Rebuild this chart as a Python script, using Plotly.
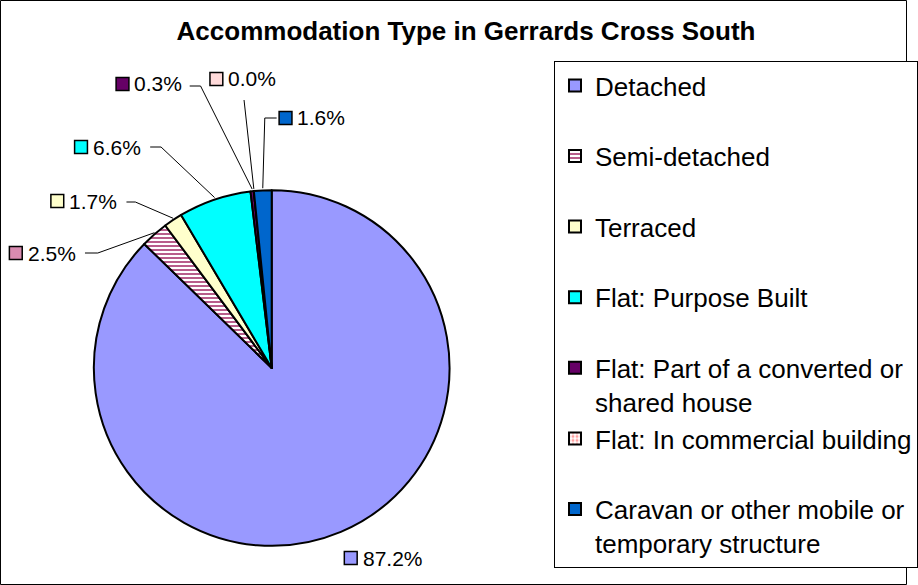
import math
import textwrap
import plotly.graph_objects as go

# ---------------- data ----------------
categories = [
    "Detached",
    "Semi-detached",
    "Terraced",
    "Flat: Purpose Built",
    "Flat: Part of a converted or shared house",
    "Flat: In commercial building",
    "Caravan or other mobile or temporary structure",
]
percent = [87.2, 2.5, 1.7, 6.6, 0.3, 0.0, 1.6]

# ---------------- styles ----------------
colors = ["#9999FF", "#F2B6CF", "#FFFFCC", "#00FFFF", "#660066", "#FFE6E6", "#0066CC"]
pattern_shapes = ["", "-", "", "", "", ".", ""]
pattern_fg = ["#000000", "#B04A7E", "#000000", "#000000", "#000000", "#FF9E9E", "#000000"]
swatch_colors = ["#9999FF", "#D98BB0", "#FFFFCC", "#00FFFF", "#660066", "#FFDADA", "#0066CC"]

FONT = "Liberation Sans, Arial, sans-serif"
W, H = 918, 585
CX, CY, R = 275, 368, 180          # pie centre / radius in pixels

# label placement (square centre in px) and leader start/elbow points (px)
label_pos = [(355, 558), (16, 253), (58, 201), (82, 147), (124, 84), (219, 79), (289, 118)]
leader_pts = [None,
              [(86, 253), (99, 253)],
              [(128, 202), (137, 202)],
              [(152, 147), (163, 147)],
              [(192, 86), (203, 86)],
              [(247, 100)],
              [(280, 118), (268, 118)]]


def fx(x):
    return x / W


def fy(y):
    return 1 - y / H


# legend names: wrap long names, pad every entry to two lines
legend_names = []
for c in categories:
    lines = textwrap.wrap(c, 28)
    while len(lines) < 2:
        lines.append(" ")
    legend_names.append("<br>".join(lines))

fig = go.Figure()
fig.add_trace(go.Pie(
    labels=legend_names,
    values=percent,
    sort=False,
    direction="clockwise",
    rotation=0,
    textinfo="none",
    hoverinfo="label+percent",
    marker=dict(
        colors=colors,
        line=dict(color="#000000", width=2),
        pattern=dict(shape=pattern_shapes, fgcolor=pattern_fg, size=4, solidity=0.45),
    ),
    domain=dict(x=[fx(CX - R), fx(CX + R)], y=[fy(CY + R), fy(CY - R)]),
    showlegend=True,
))

shapes = []
annotations = []
total = sum(percent)
cum = 0.0
for i, v in enumerate(percent):
    mid = (cum + v / 2) / total
    cum += v
    theta = 2 * math.pi * mid
    ex = CX + R * math.sin(theta)
    ey = CY - R * math.cos(theta)
    sx, sy = label_pos[i]
    # swatch
    shapes.append(dict(type="rect", xref="paper", yref="paper",
                       x0=fx(sx - 6.5), x1=fx(sx + 6.5), y0=fy(sy + 6.5), y1=fy(sy - 6.5),
                       fillcolor=swatch_colors[i], line=dict(color="#000000", width=1.5)))
    annotations.append(dict(xref="paper", yref="paper", x=fx(sx + 10), y=fy(sy),
                            xanchor="left", yanchor="middle", showarrow=False,
                            text=f"{v:.1f}%", font=dict(family=FONT, size=21, color="#000000")))
    if leader_pts[i]:
        pts = leader_pts[i] + [(ex, ey)]
        path = "M " + " L ".join(f"{fx(x)},{fy(y)}" for x, y in pts)
        shapes.append(dict(type="path", xref="paper", yref="paper", path=path,
                           line=dict(color="#000000", width=1)))

# outer border
shapes.append(dict(type="rect", xref="paper", yref="paper",
                   x0=fx(0.5), x1=fx(W - 0.5), y0=fy(H - 0.5), y1=fy(0.5),
                   line=dict(color="#000000", width=1), fillcolor="rgba(0,0,0,0)"))

fig.update_layout(
    width=W, height=H,
    margin=dict(l=0, r=0, t=0, b=0),
    paper_bgcolor="#FFFFFF",
    plot_bgcolor="#FFFFFF",
    title=dict(text="<b>Accommodation Type in Gerrards Cross South</b>",
               x=fx(466), y=fy(31), xanchor="center", yanchor="middle",
               font=dict(family=FONT, size=26, color="#000000")),
    legend=dict(x=fx(561), y=fy(61), xanchor="left", yanchor="top",
                bordercolor="#000000", borderwidth=1, bgcolor="#FFFFFF",
                font=dict(family=FONT, size=26, color="#000000"),
                valign="top", traceorder="normal"),
    shapes=shapes,
    annotations=annotations,
)

fig.write_html("out.html", config={"displayModeBar": False},
               post_script="document.body.style.margin='0';")
